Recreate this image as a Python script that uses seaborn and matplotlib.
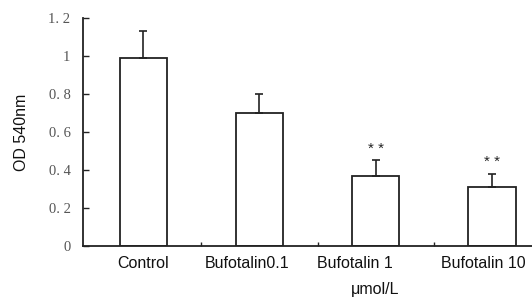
import matplotlib
matplotlib.use("Agg")
import matplotlib.pyplot as plt
import seaborn as sns
import pandas as pd

categories = ["Control", "Bufotalin0.1", "Bufotalin 1", "Bufotalin 10"]
means = [0.99, 0.70, 0.37, 0.31]
errors = [0.14, 0.10, 0.08, 0.07]
marks = ["", "", "* *", "* *"]
yticks = [0, 0.2, 0.4, 0.6, 0.8, 1.0, 1.2]
ytick_labels = ["0", "0. 2", "0. 4", "0. 6", "0. 8", "1", "1. 2"]
unit_label = "\u03bcmol/L"

sns.set_theme(style="white")
plt.rcParams["font.family"] = ["Liberation Sans", "DejaVu Sans"]

df = pd.DataFrame({"group": categories, "od": means})

fig = plt.figure(figsize=(5.32, 2.97), dpi=100)
ax = fig.add_axes([0.156, 0.172, 0.86, 0.767])

sns.barplot(data=df, x="group", y="od", order=categories, errorbar=None,
            color="white", edgecolor="#222222", linewidth=1.3, width=0.41, ax=ax)
for p in ax.patches:
    p.set_facecolor("white")

xs = list(range(len(categories)))
ax.errorbar(xs, means, yerr=[[0] * len(errors), errors], fmt="none",
            ecolor="#222222", elinewidth=1.2, capsize=3, capthick=1.2)

for x, m, e, s in zip(xs, means, errors, marks):
    if s:
        ax.text(x, m + e + 0.025, s, ha="center", va="bottom", fontsize=11,
                color="#222222")

ax.set_xlim(-0.52, 3.42)
ax.set_ylim(0, 1.2)
ax.set_yticks(yticks)
ax.set_yticklabels(ytick_labels, family="Liberation Serif", fontsize=10.5, color="#555555")
ax.set_xticks([0.5, 1.5, 2.5])
ax.set_xticklabels([])
label_shift = [0.0, -0.11, -0.18, -0.07]
for x, c, dx in zip(xs, categories, label_shift):
    ax.text(x + dx, -0.055, c, ha="center", va="top", fontsize=11.5, color="#111111")
ax.text(2.0, -0.19, unit_label, ha="center", va="top", fontsize=11.5, color="#111111")

ax.set_xlabel("")
ax.set_ylabel("OD 540nm", fontsize=11.5, color="#111111", labelpad=14)
ax.tick_params(axis="y", direction="in", length=4, width=1, color="#222222", pad=9, left=True)
ax.tick_params(axis="x", direction="in", length=3, width=1, color="#222222", bottom=True)

sns.despine(ax=ax, top=True, right=True)
for side in ["left", "bottom"]:
    ax.spines[side].set_color("#222222")
    ax.spines[side].set_linewidth(1.3)

fig.savefig("out.png", dpi=100)
